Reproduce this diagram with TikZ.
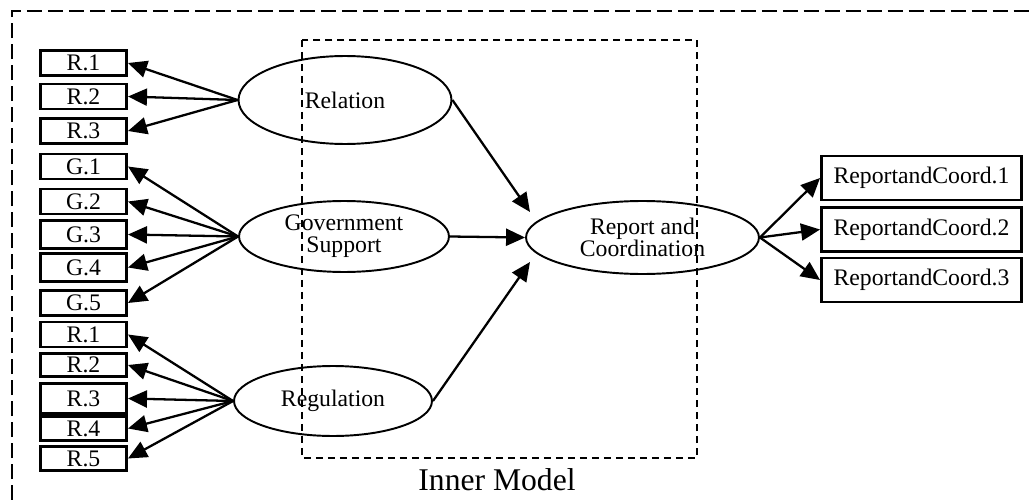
\documentclass[tikz,border=0pt]{standalone}
\usepackage{fontspec}
\setmainfont{Liberation Serif}
\usepackage{tikz}
\usetikzlibrary{arrows.meta,shapes.geometric}

\begin{document}
\begin{tikzpicture}[x=0.02cm,y=-0.02cm,
		ind/.style={draw,line width=1.7pt,minimum width=1.72cm,minimum height=0.5cm,inner sep=0pt,font=\fontsize{13.5}{14}\selectfont},
		indwide/.style={ind,minimum width=4cm,minimum height=0.88cm},
		lat/.style={draw,ellipse,line width=1.1pt,inner sep=0pt,align=center,font=\fontsize{13.5}{12.5}\selectfont},
		load/.style={line width=1.3pt,-{Triangle[length=0.38cm,width=0.34cm]}},
		frame/.style={line width=1pt,dash pattern=on 0.3cm off 0.12cm},
		innerframe/.style={line width=0.8pt,dash pattern=on 0.14cm off 0.1cm}]
		\useasboundingbox (0,0) rectangle (1034,500);

		% outer and inner frames
		\draw[frame] (12,500) -- (12,11) -- (1034,11);
		\draw[innerframe] (302,40) rectangle (697,458);
		\node[font=\fontsize{18}{20}\selectfont] (inner) at (497,480) {Inner Model};

		% indicators
		\node[ind] (r1) at (83.5,63) {R.1};
		\node[ind] (r2) at (83.5,96.5) {R.2};
		\node[ind] (r3) at (83.5,131) {R.3};
		\node[ind] (g1) at (83.5,166.5) {G.1};
		\node[ind] (g2) at (83.5,201.5) {G.2};
		\node[ind,minimum height=0.56cm] (g3) at (83.5,234.5) {G.3};
		\node[ind,minimum height=0.56cm] (g4) at (83.5,267.5) {G.4};
		\node[ind] (g5) at (83.5,303) {G.5};
		\node[ind] (q1) at (83.5,334.5) {R.1};
		\node[ind,minimum height=0.46cm] (q2) at (83.5,365) {R.2};
		\node[ind,minimum height=0.6cm] (q3) at (83.5,398.5) {R.3};
		\node[ind,minimum height=0.48cm] (q4) at (83.5,428.5) {R.4};
		\node[ind,minimum height=0.48cm] (q5) at (83.5,458.5) {R.5};

		\node[indwide] (rc1) at (921.5,178) {ReportandCoord.1};
		\node[indwide] (rc2) at (921.5,229.5) {ReportandCoord.2};
		\node[indwide] (rc3) at (921.5,280) {ReportandCoord.3};

		% latent variables
		\node[lat,minimum width=4.26cm,minimum height=1.76cm] (rel) at (345,100) {Relation};
		\node[lat,minimum width=4.2cm,minimum height=1.42cm] (gov) at (344,236.5) {Government\\Support};
		\node[lat,minimum width=4.66cm,minimum height=1.46cm] (rep) at (642.5,237.5) {Report and\\Coordination};
		\node[lat,minimum width=3.96cm,minimum height=1.4cm] (reg) at (333,401) {Regulation};

		\coordinate (repin1) at (530,212);
		\coordinate (repin3) at (530,262);

		% outer model
		\draw[load] (rel.west) -- (r1.east);
		\draw[load] (rel.west) -- (r2.east);
		\draw[load] (rel.west) -- (r3.east);
		\draw[load] (gov.west) -- (g1.east);
		\draw[load] (gov.west) -- (g2.east);
		\draw[load] (gov.west) -- (g3.east);
		\draw[load] (gov.west) -- (g4.east);
		\draw[load] (gov.west) -- (g5.east);
		\draw[load] (reg.west) -- (q1.east);
		\draw[load] (reg.west) -- (q2.east);
		\draw[load] (reg.west) -- (q3.east);
		\draw[load] (reg.west) -- (q4.east);
		\draw[load] (reg.west) -- (q5.east);
		\draw[load] (rep.east) -- (rc1.west);
		\draw[load] (rep.east) -- (rc2.west);
		\draw[load] (rep.east) -- (rc3.west);

		% inner model
		\draw[load] (rel.east) -- (repin1);
		\draw[load] (gov.east) -- (rep.west);
		\draw[load] (reg.east) -- (repin3);
	\end{tikzpicture}
\end{document}
